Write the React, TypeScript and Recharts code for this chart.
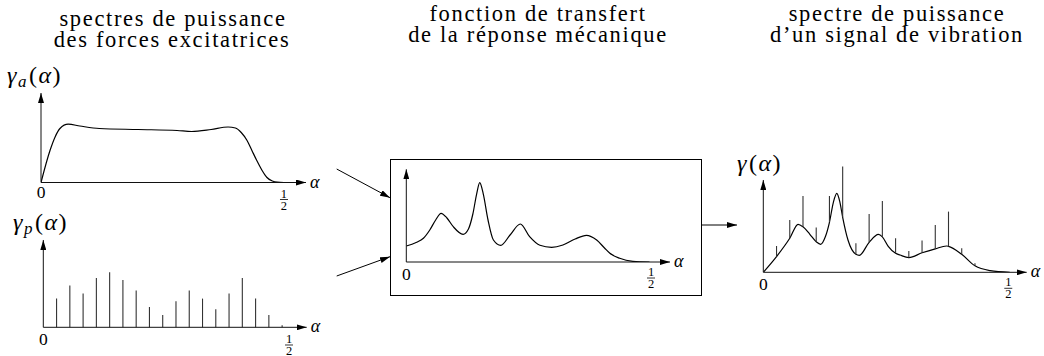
import React from 'react';
import { ComposedChart, Line, XAxis, YAxis, ReferenceLine } from 'recharts';

const serifName = 'Liberation Serif';

// alpha positions of the discrete lines (same comb for both spectra)
const combAlpha = [0.027, 0.054, 0.081, 0.108, 0.135, 0.162, 0.189, 0.216, 0.243, 0.27, 0.297, 0.324, 0.351, 0.378, 0.405, 0.432, 0.459, 0.486];

// gamma_a : continuous spectrum of the excitation forces
const aAlpha = [0, 0.0185, 0.029, 0.039, 0.056, 0.08, 0.12, 0.2, 0.28, 0.31, 0.35, 0.385, 0.4, 0.412, 0.424, 0.434, 0.444, 0.455, 0.465, 0.476, 0.486, 0.5];
const aValue = [0, 32, 45.6, 54, 58.3, 56.5, 54, 53, 52, 51, 53, 55.5, 54.5, 50, 42, 32, 22, 12, 5, 1.5, 0.3, 0];

// gamma_p : line spectrum of the excitation forces
const pValue = [28.7, 41.7, 33.7, 49.3, 55, 47.3, 36.7, 20.3, 12.3, 26, 36.7, 28.7, 18, 33.7, 49.3, 28.7, 12.3, 2];

// transfer function of the mechanical response
const hAlpha = [0, 0.02, 0.035, 0.048, 0.06, 0.071, 0.083, 0.096, 0.116, 0.127, 0.136, 0.144, 0.15, 0.157, 0.167, 0.178, 0.193, 0.212, 0.233, 0.252, 0.273, 0.297, 0.32, 0.345, 0.368, 0.389, 0.405, 0.416, 0.436, 0.463, 0.497];
const hValue = [16, 19.5, 23.7, 32, 42, 48.7, 44, 35.3, 27.7, 33, 48, 68.7, 79.3, 68.7, 42, 22, 16.7, 27, 38, 25.3, 16.7, 14.7, 17, 23, 26.7, 22, 14, 8.7, 3.7, 0.7, 0];

// gamma : power spectrum of the vibration signal
const gAlpha = [0, 0.027, 0.054, 0.071, 0.081, 0.095, 0.108, 0.117, 0.127, 0.135, 0.143, 0.15, 0.156, 0.162, 0.173, 0.189, 0.196, 0.216, 0.235, 0.243, 0.255, 0.27, 0.279, 0.297, 0.324, 0.351, 0.374, 0.378, 0.405, 0.432, 0.463, 0.503];
const gValue = [0, 15.7, 34, 48, 45.5, 38, 30.5, 28, 36, 50, 70, 79, 71, 55, 32, 18, 17, 30, 38, 35.5, 26, 19, 17.3, 14.7, 19.5, 23.5, 26.3, 26, 18, 6.5, 1.7, 0];
const gLineLow = [15.7, 34, 45.5, 30.5, 50, 55, 18, 30, 35.5, 19, 14.7, 19.5, 23.5, 26, 18, 6.5];
const gLineHigh = [26.3, 52.3, 76.3, 44.7, 76.3, 105.7, 29, 58.3, 71.3, 34, 21.3, 31.7, 47.3, 60.7, 24, 9];

const aCurve = aAlpha.map((a, i) => ({ a, v: aValue[i] }));
const hCurve = hAlpha.map((a, i) => ({ a, v: hValue[i] }));
const gCurve = gAlpha.map((a, i) => ({ a, v: gValue[i] }));
const pLines = pValue.map((v, i) => ({ a: combAlpha[i], lo: 0, hi: v }));
const gLines = gLineHigh.map((v, i) => ({ a: combAlpha[i], lo: gLineLow[i], hi: v }));

// top of an html line box whose baseline should sit at `baseline`
const topFor = (baseline: number, fs: number, lh: number) => baseline - ((lh - 1.107 * fs) / 2 + 0.891 * fs);

const MathLabel = ({ x, y, sub }: { x: number; y: number; sub?: string }) => (
  <div
    style={{
      position: 'absolute',
      left: x,
      top: topFor(y, 24, 24),
      fontFamily: `"${serifName}"`,
      fontSize: 24,
      lineHeight: '24px',
      letterSpacing: 1.5,
      whiteSpace: 'nowrap',
    }}
  >
    <i>γ</i>
    {sub && <i style={{ fontSize: 17, verticalAlign: -4 }}>{sub}</i>}
    <span style={{ marginLeft: 1 }}>(</span>
    <i>α</i>)
  </div>
);

const Title = ({ x, y, text }: { x: number; y: number; text: string }) => (
  <div
    style={{
      position: 'absolute',
      left: x - 200,
      top: topFor(y, 22.5, 21),
      width: 400,
      height: 21,
      textAlign: 'center',
      fontFamily: `"${serifName}"`,
      fontSize: 22.5,
      lineHeight: '21px',
      letterSpacing: 1.65,
      whiteSpace: 'nowrap',
    }}
  >
    {text}
  </div>
);

interface PanelProps {
  left: number;
  top: number;
  width: number;
  originX: number;
  originY: number;
  plotRight: number;
  plotTop: number;
  xMax: number;
  curve?: { a: number; v: number }[];
  lines?: { a: number; lo: number; hi: number }[];
  zeroDy: number;
  fracDy: number;
}

function Panel(p: PanelProps) {
  const xh = 36;
  const height = p.originY - p.top + xh;
  const yMax = p.originY - p.plotTop;
  const lines = p.lines ?? [];

  const tick = (props: any) => {
    const { x, y, payload } = props;
    if (payload.value === 0) {
      return (
        <text x={x} y={y + p.zeroDy} textAnchor="middle" fontFamily={serifName} fontSize={17.5} fill="#000">
          0
        </text>
      );
    }
    return (
      <g>
        <text x={x} y={y + p.fracDy - 2} textAnchor="middle" fontFamily={serifName} fontSize={12.5} fill="#000">
          1
        </text>
        <line x1={x - 4} x2={x + 4} y1={y + p.fracDy} y2={y + p.fracDy} stroke="#000" strokeWidth={0.8} />
        <text x={x} y={y + p.fracDy + 10} textAnchor="middle" fontFamily={serifName} fontSize={12.5} fill="#000">
          2
        </text>
      </g>
    );
  };

  return (
    <div style={{ position: 'absolute', left: p.left, top: p.top }}>
      <ComposedChart
        width={p.width}
        height={height}
        data={p.curve ?? p.lines}
        margin={{ top: p.plotTop - p.top, right: p.left + p.width - p.plotRight, bottom: 0, left: p.originX - p.left - 1 }}
      >
        <XAxis
          type="number"
          dataKey="a"
          domain={[0, p.xMax]}
          allowDataOverflow
          ticks={[0, 0.5]}
          interval={0}
          tickLine={false}
          tickSize={0}
          tickMargin={0}
          height={xh}
          axisLine={{ stroke: '#111', strokeWidth: 1, markerEnd: 'url(#axisHead)' }}
          tick={tick}
          label={(lp: any) => (
            <text
              x={lp.viewBox.x + lp.viewBox.width + 4}
              y={lp.viewBox.y + 5}
              fontFamily={serifName}
              fontStyle="italic"
              fontSize={18}
              fill="#000"
            >
              α
            </text>
          )}
        />
        <YAxis
          type="number"
          domain={[0, yMax]}
          allowDataOverflow
          width={1}
          tick={false}
          tickLine={false}
          axisLine={{ stroke: '#111', strokeWidth: 1, markerStart: 'url(#axisHead)' }}
        />
        {p.curve && (
          <Line dataKey="v" type="monotone" stroke="#000" strokeWidth={1.2} dot={false} isAnimationActive={false} />
        )}
        {lines.map((l, i) => (
          <ReferenceLine
            key={i}
            segment={[
              { x: l.a, y: l.lo },
              { x: l.a, y: l.hi },
            ]}
            stroke="#333"
            strokeWidth={1.1}
            ifOverflow="visible"
          />
        ))}
      </ComposedChart>
    </div>
  );
}

export default function App() {
  return (
    <div style={{ position: 'absolute', left: 0, top: 0, width: 1044, height: 356, background: '#fff', color: '#000' }}>
      <svg width={1044} height={356} style={{ position: 'absolute', left: 0, top: 0 }}>
        <defs>
          <marker
            id="axisHead"
            viewBox="0 0 10 6"
            refX={10}
            refY={3}
            markerWidth={10}
            markerHeight={6}
            markerUnits="userSpaceOnUse"
            orient="auto-start-reverse"
          >
            <path d="M0,0 L10,3 L0,6 z" fill="#000" />
          </marker>
        </defs>
        <rect x={390.5} y={159.5} width={311} height={136} fill="none" stroke="#000" strokeWidth={1} />
        <line x1={336.7} y1={169} x2={390} y2={197.7} stroke="#000" strokeWidth={1} markerEnd="url(#axisHead)" />
        <line x1={336.7} y1={276} x2={390} y2={256.7} stroke="#000" strokeWidth={1} markerEnd="url(#axisHead)" />
        <line x1={702} y1={225} x2={737} y2={225} stroke="#000" strokeWidth={1} markerEnd="url(#axisHead)" />
      </svg>

      <Title x={173} y={26} text="spectres de puissance" />
      <Title x={172} y={47.5} text="des forces excitatrices" />
      <Title x={538} y={21} text="fonction de transfert" />
      <Title x={538} y={42.5} text="de la réponse mécanique" />
      <Title x={897} y={21} text="spectre de puissance" />
      <Title x={897} y={42.5} text="d’un signal de vibration" />
      <MathLabel x={7} y={83.5} sub="a" />
      <MathLabel x={13} y={230.5} sub="p" />
      <MathLabel x={737} y={171} />

      <Panel left={0} top={55} width={330} originX={41} originY={182.5} plotRight={306} plotTop={93}
        xMax={0.5453} curve={aCurve} zeroDy={15.5} fracDy={17} />
      <Panel left={0} top={205} width={330} originX={43.3} originY={327.3} plotRight={306.7} plotTop={240}
        xMax={0.536} lines={pLines} zeroDy={17.5} fracDy={17.7} />
      <Panel left={392} top={161} width={308} originX={406.3} originY={262} plotRight={670} plotTop={169.3}
        xMax={0.5388} curve={hCurve} zeroDy={18} fracDy={16} />
      <Panel left={737} top={150} width={307} originX={763.3} originY={272.3} plotRight={1026.7} plotTop={180}
        xMax={0.5376} curve={gCurve} lines={gLines} zeroDy={17.5} fracDy={16} />
    </div>
  );
}
